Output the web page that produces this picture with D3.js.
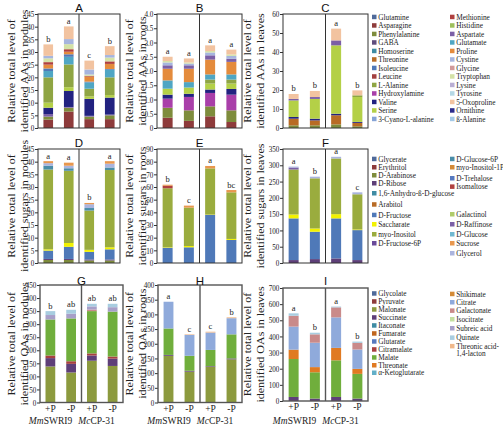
<!DOCTYPE html>
<html><head><meta charset="utf-8">
<script src="https://cdn.jsdelivr.net/npm/d3@7"></script>
<style>body{margin:0;background:#fff}svg{display:block}</style>
</head><body>
<svg id="c" width="503" height="427"></svg>
<script>
// ---------------- DATA ----------------
const treatments = ["+P", "-P", "+P", "-P"];
const strains = ["MmSWRI9", "McCP-31"];

// Amino acids legend
const aaNames = ["Glutamine","Asparagine","Phenylalanine","GABA","Homoserine","Threonine","Isoleucine","Leucine","L-Alanine","Hydroxylamine","Valine","Serine","3-Cyano-L-alanine",
  "Methionine","Histidine","Aspartate","Glutamate","Proline","Cystine","Glycine","Tryptophan","Lysine","Tyrosine","5-Oxoproline","Ornithine","ß-Alanine"];
const aaColors = ["#4F6A9A","#8E3B3B","#7E8C3C","#5E4D7E","#3F8CA3","#B86B25","#4F79B8","#A33F3F","#8FA543","#A93FA9","#222280","#B4D047","#86A3D6",
  "#B0403F","#9DBF5B","#7B5FA6","#4FA6C4","#E48B3C","#A6B5DE","#D19A9A","#D4E2A6","#B9AED4","#B4D8E6","#F2C3A0","#2B2B8C","#A4C9E6"];

// Sugars legend
const sugarNames = ["Glycerate","Erythritol","D-Arabinose","D-Ribose","1,6-Anhydro-ß-D-glucose","Arabitol","D-Fructose","Saccharate","myo-Inositol","D-Fructose-6P",
  "D-Glucose-6P","myo-Inositol-1P","D-Trehalose","Isomaltose","Galactinol","D-Raffinose","D-Glucose","Sucrose","Glycerol"];
const sugarColors = ["#4F6A9A","#8E3B3B","#7E8C3C","#5E3F78","#3F8CA3","#B86B25","#4F79B8","#F2F200","#9AAC3E","#6A4A9A",
  "#4A8DA8","#D48A36","#5679BF","#B0403F","#AFCB6A","#7B5FA6","#6FB8D0","#E8974E","#AAB4DE"];

// Organic acids legend
const oaNames = ["Glycolate","Pyruvate","Malonate","Succinate","Itaconate","Fumarate","Glutarate","Citramalate","Malate","Threonate","α-Ketoglutarate",
  "Shikimate","Citrate","Galactonate","Isocitrate","Subreic acid","Quinate","Threonic acid-1,4-lacton"];
const oaColors = ["#4F6A9A","#8E3B3B","#8C9A3E","#5E3F78","#3F8CA3","#C0661E","#5679BF","#A84040","#70AE3C","#E07A22","#62AFC8",
  "#D48A36","#8FAADB","#C98A8A","#C4DFA0","#A79FC8","#A8CDE0","#F0B88A"];

// Panel A: AAs in nodules (stack bottom -> top)
const aKeys = ["Asparagine","Phenylalanine","Aspartate","Valine","Serine","L-Alanine","Glutamate","Isoleucine","Proline","Methionine","Tryptophan","Cystine","5-Oxoproline"];
const aVals = [[3.3,6.5,3.5,3.5],[1.2,1.5,1.0,1.5],[1.0,0.3,0.3,0.3],[2.5,6.3,6.7,6.7],[2.0,1.5,1.0,1.0],[10,9,3.0,7],[2.5,3,2.5,3],[1,1,0.3,0.3],[1.5,1,2,2],[1,1,0.3,1],[1.5,2,0.5,1.5],[1,2,2,1],[4.5,5,3.5,3.5]];
const aLetters = ["b","a","c","b"];

// Panel B: AAs in roots
const bKeys = ["Asparagine","Phenylalanine","Hydroxylamine","Valine","Serine","L-Alanine","Glutamate","Proline","Aspartate","Cystine","Tryptophan","5-Oxoproline"];
const bVals = [[0.36,0.25,0.41,0.21],[0.35,0.37,0.35,0.41],[0.32,0.47,0.47,0.55],[0.14,0.11,0.12,0.2],[0.21,0.22,0.21,0.19],[0,0,0.14,0.14],[0.29,0.19,0.18,0.18],[0.41,0.47,0.52,0.44],[0.12,0.12,0.15,0.11],[0.1,0.06,0.1,0.1],[0.05,0.04,0.05,0.05],[0.15,0.14,0.2,0.17]];
const bLetters = ["a","a","a","a"];

// Panel C: AAs in leaves
const cKeys = ["Phenylalanine","Threonine","Valine","Serine","L-Alanine","Aspartate","5-Oxoproline"];
const cVals = [[1.4,1.4,1.9,0.9],[3.5,2.6,4.8,1.8],[0.9,0.9,0.8,0.5],[8.7,10.4,36,13.1],[0,0,0,0.9],[0.8,1.0,2.6,0],[2.6,3.2,6.2,2.6]];
const cLetters = ["b","b","a","b"];

// Panel D: sugars in nodules
const dKeys = ["D-Arabinose","D-Ribose","D-Fructose","Saccharate","myo-Inositol","D-Glucose-6P","Glycerol","Sucrose"];
const dVals = [[1.2,1.2,1.0,1.0],[0.4,0.4,0.4,0.4],[3.3,4.8,3.0,4.0],[0.5,1.5,0.8,0.8],[31.5,28.5,15.5,30.5],[1.5,1.0,1.0,1.0],[1.0,1.0,1.5,1.5],[0.8,1.2,0.5,1.0]];
const dLetters = ["a","a","b","a"];

// Panel E: sugars in roots
const eKeys = ["D-Fructose","Saccharate","myo-Inositol","Isomaltose","Sucrose"];
const eVals = [[12.1,12.4,37.9,18.2],[0.4,1.0,0.3,0.8],[46.5,30.3,36.5,36.8],[2.0,0,0,0],[0.8,1.6,1.9,1.8]];
const eLetters = ["b","c","a","bc"];

// Panel F: sugars in leaves
const fKeys = ["D-Ribose","D-Fructose","Saccharate","myo-Inositol","D-Raffinose","Glycerol"];
const fVals = [[9,12,14,9],[128,84,123,92],[12,10,13,2],[138,154,171,108],[6,0,0,0],[3,5,5,6]];
const fLetters = ["a","b","a","c"];

// Panel G: OAs in nodules
const gKeys = ["Malonate","Succinate","Citramalate","Malate","Galactonate","Subreic acid","Quinate"];
const gVals = [[138,115,160,140],[32,33,20,28],[10,10,8,8],[138,164,162,172],[0,0,6,0],[17,18,12,17],[15,15,10,13]];
const gLetters = ["b","ab","ab","ab"];

// Panel H: OAs in roots
const hKeys = ["Malonate","Succinate","Malate","Citrate","Threonic acid-1,4-lacton"];
const hVals = [[159,105,122,147],[3,3,2,3],[90,51,55,82],[91,71,59,55],[0,2,3,3]];
const hLetters = ["a","c","c","b"];

// Panel I: OAs in leaves
const iKeys = ["Succinate","Malate","Threonate","Citrate","Galactonate","Quinate"];
const iVals = [[25,15,25,15],[235,163,227,153],[58,32,77,31],[143,151,189,120],[67,52,62,41],[15,10,5,8]];
const iLetters = ["a","b","a","b"];

// ---------------- DRAW ----------------
const SERIF = "'Liberation Serif','Times New Roman',serif";
const SANS = "'Liberation Sans',Arial,sans-serif";
const svg = d3.select("#c");

const colorOf = {};
aaNames.forEach((n,i)=>colorOf["aa:"+n]=aaColors[i]);
sugarNames.forEach((n,i)=>colorOf["su:"+n]=sugarColors[i]);
oaNames.forEach((n,i)=>colorOf["oa:"+n]=oaColors[i]);

// baselines of the two rotated y-title lines per column
const colTitleX = [[14.5,27.5],[132.5,145.5],[250.5,264]];
const strainOffset = [-31, 15];

function drawPanel(p) {
  const x = d3.scaleBand().domain(d3.range(4)).range([p.left, p.right]).paddingInner(0.53).paddingOuter(0.265);
  const y = d3.scaleLinear().domain([0, p.yMax]).range([p.bottom, p.top]);
  const rows = d3.range(4).map(i => { const r = {i}; p.keys.forEach((k,j)=> r[k] = p.vals[j][i]); return r; });
  const series = d3.stack().keys(p.keys)(rows);
  const g = svg.append("g");
  g.selectAll("g.s").data(series).join("g").attr("class","s")
    .attr("fill", d => colorOf[p.ns + ":" + d.key])
    .selectAll("rect").data(d => d).join("rect")
    .attr("x", d => x(d.data.i)).attr("width", x.bandwidth())
    .attr("y", d => y(d[1])).attr("height", d => Math.max(0, y(d[0]) - y(d[1])));

  const ticks = d3.range(0, p.yMax + p.yStep/2, p.yStep);
  const ax = g.append("g").attr("transform", `translate(${p.left},0)`)
    .call(d3.axisLeft(y).tickValues(ticks).tickSize(3).tickPadding(1.2).tickFormat(p.fmt || d3.format("d")));
  ax.select(".domain").remove();
  ax.selectAll("text").attr("font-family", SERIF).attr("font-size", 8.4).attr("fill", "#222")
    .attr("transform", "scale(0.85,1)");
  ax.selectAll("line").attr("stroke", "#333");

  const sw = p.row === 2 ? 1.4 : 1;
  const sc = p.row === 2 ? "#555" : "#333";
  g.append("rect").attr("x", p.left).attr("y", p.top).attr("width", p.right - p.left).attr("height", p.bottom - p.top)
    .attr("fill", "none").attr("stroke", sc).attr("stroke-width", sw);
  const mid = (p.left + p.right) / 2;
  g.append("line").attr("x1", mid).attr("x2", mid).attr("y1", p.top).attr("y2", p.bottom).attr("stroke", sc).attr("stroke-width", sw);

  // panel letter
  g.append("text").attr("x", mid).attr("y", p.titleY).attr("text-anchor", "middle")
    .attr("font-family", SANS).attr("font-size", 11.5).attr("fill", "#111").text(p.id);

  // significance letters
  rows.forEach((r, i) => {
    const tot = d3.sum(p.keys, k => r[k]);
    g.append("text").attr("x", x(i) + x.bandwidth()/2).attr("y", y(tot) - 2.5).attr("text-anchor", "middle")
      .attr("font-family", SERIF).attr("font-size", 8.5).attr("fill", "#222").text(p.letters[i]);
  });

  // y title
  const tx = colTitleX[p.col];
  const my = (p.top + p.bottom) / 2;
  p.title.forEach((t, k) => {
    g.append("text").attr("transform", `translate(${tx[k]},${my}) scale(0.92,1) rotate(-90)`)
      .attr("text-anchor", "middle").attr("font-family", SERIF).attr("font-size", 12).attr("fill", "#222").text(t);
  });

  // x labels for bottom row
  if (p.row === 2) {
    treatments.forEach((t, i) => {
      g.append("text").attr("x", x(i) + x.bandwidth()/2).attr("y", p.bottom + 9).attr("text-anchor", "middle")
        .attr("font-family", SERIF).attr("font-size", 9.5).attr("fill", "#222").text(t);
    });
    strains.forEach((s, j) => {
      const cx = mid + strainOffset[j];
      const t = g.append("text").attr("x", cx).attr("y", 424).attr("text-anchor", "middle")
        .attr("font-family", SERIF).attr("font-size", 9.5).attr("fill", "#222");
      t.append("tspan").attr("font-style", "italic").text(s.slice(0,2));
      t.append("tspan").text(s.slice(2));
    });
  }
}

const fmtB = d => d === 0 ? "0" : d3.format(".1f")(d);
const panels = [
  {id:"A", row:0, col:0, left:38, right:120, top:14, bottom:128, titleY:11.5, yMax:45, yStep:5, ns:"aa", keys:aKeys, vals:aVals, letters:aLetters, title:["Relative total level of","identified AAs in nodules"]},
  {id:"B", row:0, col:1, left:157, right:242, top:14, bottom:128, titleY:11.5, yMax:4, yStep:0.5, fmt:fmtB, ns:"aa", keys:bKeys, vals:bVals, letters:bLetters, title:["Relative total level of","identified AAs in roots"]},
  {id:"C", row:0, col:2, left:283, right:368, top:14, bottom:128, titleY:11.5, yMax:60, yStep:10, ns:"aa", keys:cKeys, vals:cVals, letters:cLetters, title:["Relative total level of","identified AAs in leaves"]},
  {id:"D", row:1, col:0, left:38, right:120, top:149, bottom:263, titleY:146.5, yMax:45, yStep:5, ns:"su", keys:dKeys, vals:dVals, letters:dLetters, title:["Relative total level of","identified sugars in nodules"]},
  {id:"E", row:1, col:1, left:157, right:242, top:149, bottom:263, titleY:146.5, yMax:90, yStep:10, ns:"su", keys:eKeys, vals:eVals, letters:eLetters, title:["Relative total level of","identified sugars in roots"]},
  {id:"F", row:1, col:2, left:283, right:368, top:149, bottom:263, titleY:146.5, yMax:350, yStep:50, ns:"su", keys:fKeys, vals:fVals, letters:fLetters, title:["Relative total level of","identified sugars in leaves"]},
  {id:"G", row:2, col:0, left:40, right:123, top:285, bottom:402.5, titleY:285, yMax:450, yStep:50, ns:"oa", keys:gKeys, vals:gVals, letters:gLetters, title:["Relative total level of","identified OAs in nodules"]},
  {id:"H", row:2, col:1, left:158, right:242, top:285, bottom:402.5, titleY:285, yMax:400, yStep:50, ns:"oa", keys:hKeys, vals:hVals, letters:hLetters, title:["Relative total level of","identified OAs in roots"]},
  {id:"I", row:2, col:2, left:283, right:368, top:288, bottom:401, titleY:285, yMax:700, yStep:100, ns:"oa", keys:iKeys, vals:iVals, letters:iLetters, title:["Relative total level of","identified OAs in leaves"]}
];
panels.forEach(drawPanel);

// ---------------- LEGENDS ----------------
function drawLegend(names, ns, cols) {
  cols.forEach(c => {
    c.items.forEach((idx, k) => {
      const n = names[idx];
      const yy = c.ys[k];
      svg.append("rect").attr("x", c.x).attr("y", yy - 2.3).attr("width", 4.5).attr("height", 4.5).attr("fill", colorOf[ns + ":" + n]);
      const lines = n === "Threonic acid-1,4-lacton" ? ["Threonic acid-","1,4-lacton"] : [n];
      lines.forEach((l, j) => {
        svg.append("text").attr("x", c.x + 6.2).attr("y", yy + 2.5 + j * 7.6).attr("font-family", SERIF).attr("font-size", 7.3)
          .attr("fill", "#222").text(l);
      });
    });
  });
}
const lx1 = 372, lx2 = 450;
drawLegend(aaNames, "aa", [
  {x: lx1, items: d3.range(0,13), ys: d3.range(13).map(k => 17 + k*8.5)},
  {x: lx2, items: d3.range(13,26), ys: d3.range(13).map(k => 17 + k*8.5)}
]);
drawLegend(sugarNames, "su", [
  {x: lx1, items: d3.range(0,10), ys: [159,167.3,175.3,183.3,193.3,204.5,215,224.3,234.3,243.3]},
  {x: lx2, items: d3.range(10,19), ys: [159,167.3,178.3,186.7,214.3,224.3,234.3,243.3,253.3]}
]);
drawLegend(oaNames, "oa", [
  {x: lx1, items: d3.range(0,11), ys: [293.5,301.5,309.5,317.5,325.5,333.5,341.5,349.5,357.5,365.3,372.8]},
  {x: lx2, items: d3.range(11,18), ys: [294,302.3,310.7,319.3,328.3,337.7,346.2]}
]);
</script>
</body></html>
